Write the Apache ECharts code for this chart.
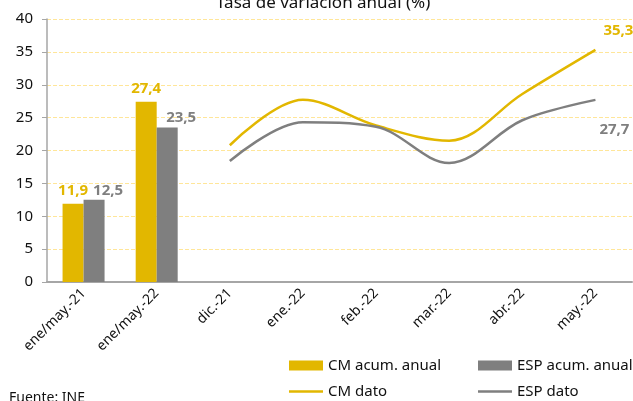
<!DOCTYPE html>
<html>
<head>
<meta charset="utf-8">
<script src="https://cdn.jsdelivr.net/npm/echarts@6/dist/echarts.min.js"></script>
<style>
    html, body { margin: 0; padding: 0; background: #fff; }
    #chartDiv { width: 633px; height: 401px; }
</style>
</head>
<body>
<div id="chartDiv"></div>
<script>
// Data
const categories = ['ene/may.-21', 'ene/may.-22', 'dic.-21', 'ene.-22', 'feb.-22', 'mar.-22', 'abr.-22', 'may.-22'];
const cmAcum = [11.9, 27.4, '-', '-', '-', '-', '-', '-'];
const espAcum = [12.5, 23.5, '-', '-', '-', '-', '-', '-'];
const cmDato = ['-', '-', 20.8, 27.7, 23.8, 21.5, 28.6, 35.3];
const espDato = ['-', '-', 18.4, 24.3, 23.6, 18.1, 24.6, 27.7];

const YELLOW = '#E2B700';
const GREY = '#7F7F7F';
const FONT = 'Noto Sans';

function comma(v) {
    return String(v).replace('.', ',');
}

// only the last point of each line carries a label
function lastLabelled(arr, label) {
    return arr.map((v, i) => i === arr.length - 1 ? { value: v, label: label } : v);
}

function renderChart() {
    const chartDom = document.getElementById('chartDiv');
    const myChart = echarts.init(chartDom, null, { renderer: 'canvas' });

    const legendText = { fontFamily: FONT, fontSize: 15, color: '#111' };

    const option = {
        backgroundColor: '#fff',
        animation: false,
        textStyle: { fontFamily: FONT },
        title: {
            text: 'Tasa de variación anual (%)',
            left: 216,
            top: -5,
            padding: 0,
            textStyle: { fontFamily: FONT, fontSize: 17, fontWeight: 'normal', color: '#111' }
        },
        graphic: [
            {
                type: 'text',
                left: 9,
                top: 391,
                style: { text: 'Fuente: INE', font: '14px "Noto Sans"', fill: '#111' }
            }
        ],
        legend: [
            { data: [{ name: 'CM acum. anual', icon: 'rect' }], left: 289, top: 358, padding: 0, itemWidth: 34, itemHeight: 10, itemGap: 0, textStyle: legendText },
            { data: [{ name: 'ESP acum. anual', icon: 'rect' }], left: 478, top: 358, padding: 0, itemWidth: 34, itemHeight: 10, itemGap: 0, textStyle: legendText },
            { data: [{ name: 'CM dato', icon: 'rect' }], left: 289, top: 384, padding: 0, itemWidth: 34, itemHeight: 2.5, itemGap: 0, textStyle: legendText },
            { data: [{ name: 'ESP dato', icon: 'rect' }], left: 478, top: 384, padding: 0, itemWidth: 34, itemHeight: 2.5, itemGap: 0, textStyle: legendText }
        ],
        grid: { left: 47, right: 1, top: 19, bottom: 119, containLabel: false },
        xAxis: {
            type: 'category',
            data: categories,
            boundaryGap: true,
            axisLine: { lineStyle: { color: '#A6A6A6', width: 2 } },
            axisTick: { show: false },
            axisLabel: {
                interval: 0,
                rotate: 45,
                margin: 9,
                fontFamily: FONT,
                fontSize: 14,
                color: '#111'
            }
        },
        yAxis: {
            type: 'value',
            min: 0,
            max: 40,
            interval: 5,
            axisLine: { show: true, lineStyle: { color: '#A6A6A6', width: 1.5 } },
            axisTick: { show: true, length: 5, lineStyle: { color: '#A6A6A6' } },
            axisLabel: { margin: 14, fontFamily: FONT, fontSize: 15, color: '#111' },
            splitLine: { show: true, lineStyle: { color: '#FFE699', type: 'dashed', width: 1 } }
        },
        series: [
            {
                name: 'CM acum. anual',
                type: 'bar',
                data: cmAcum,
                barWidth: 21,
                barGap: '0%',
                itemStyle: { color: YELLOW },
                label: {
                    show: true,
                    position: 'top',
                    distance: 6,
                    formatter: p => comma(p.value),
                    fontFamily: FONT,
                    fontSize: 15,
                    fontWeight: 'bold',
                    color: YELLOW
                }
            },
            {
                name: 'ESP acum. anual',
                type: 'bar',
                data: espAcum,
                barWidth: 21,
                barGap: '0%',
                itemStyle: { color: GREY },
                label: {
                    show: true,
                    position: 'top',
                    distance: 4,
                    offset: [14, 2],
                    formatter: p => comma(p.value),
                    fontFamily: FONT,
                    fontSize: 15,
                    fontWeight: 'bold',
                    color: GREY
                }
            },
            {
                name: 'CM dato',
                type: 'line',
                data: lastLabelled(cmDato, {
                    show: true,
                    position: 'top',
                    distance: 5,
                    offset: [23, -7],
                    formatter: p => comma(p.value),
                    fontFamily: FONT,
                    fontSize: 15,
                    fontWeight: 'bold',
                    color: YELLOW
                }),
                smooth: 0.35,
                symbol: 'circle',
                symbolSize: 0.1,
                showSymbol: true,
                lineStyle: { width: 2.5, color: YELLOW },
                itemStyle: { color: YELLOW }
            },
            {
                name: 'ESP dato',
                type: 'line',
                data: lastLabelled(espDato, {
                    show: true,
                    position: 'bottom',
                    distance: 5,
                    offset: [19, 17],
                    formatter: p => comma(p.value),
                    fontFamily: FONT,
                    fontSize: 15,
                    fontWeight: 'bold',
                    color: GREY
                }),
                smooth: 0.35,
                symbol: 'circle',
                symbolSize: 0.1,
                showSymbol: true,
                lineStyle: { width: 2.5, color: GREY },
                itemStyle: { color: GREY }
            }
        ]
    };

    myChart.setOption(option);
}

renderChart();
</script>
</body>
</html>
